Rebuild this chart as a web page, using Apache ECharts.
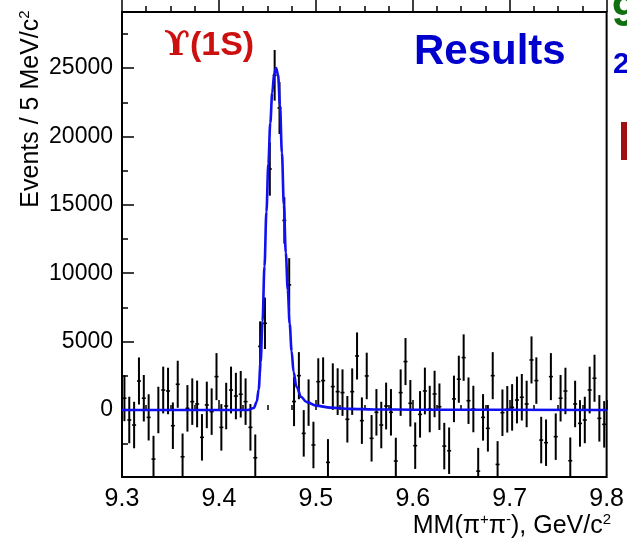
<!DOCTYPE html>
<html>
<head>
<meta charset="utf-8">
<script src="https://cdn.jsdelivr.net/npm/echarts@6/dist/echarts.min.js"></script>
<style>
  html, body { margin: 0; padding: 0; background: #fff; }
  #chart { width: 627px; height: 541px; }
</style>
</head>
<body>
<div id="chart"></div>
<script>
// Missing-mass spectrum, 5 MeV bins from 9.30 to 9.80 GeV/c^2
const binLow = 9.3;
const binWidth = 0.005;

// background-subtracted events per bin
const counts = [
  860, -730, -1100, 2120, 860, -540, -3590, 0, 1460, 1390,
  -1150, 1880, -3420, 120, 610, 440, -2000, 370, -120, 2440,
  -1270, 290, 1460, 1020, 1150, 610, -1270, -3490, 4650, 6340,
  17620, 24470, 22080, 13860, 9150, 620, 2510, -1710, 540, -2560,
  2070, 2150, -3830, 1710, 1340, 1270, -680, 1340, 3950, -780,
  2490, -2070, -170, -1100, 290, -170, -3730, 1270, 3540, 490,
  -2610, -320, 1390, 70, 1170, 240, -2640, -2980, 810, 2250,
  3830, 680, 70, -4470, -540, -1340, 2510, -3980, -200, 50,
  190, 730, 930, 440, 3660, 2150, -2200, -2390, 2440, -1950,
  860, 1390, -3710, 440, -980, -730, 1460, 2320, -610, -1050
];

// statistical uncertainty per bin
const errors = [
  1680, 1700, 1700, 1720, 1700, 1690, 1700, 1700, 1710, 1700,
  1700, 1720, 1700, 1700, 1700, 1710, 1700, 1700, 1700, 1720,
  1700, 1700, 1710, 1700, 1700, 1700, 1700, 1700, 1830, 1880,
  1950, 1850, 1900, 1700, 1950, 1800, 1720, 1700, 1700, 1700,
  1710, 1700, 1700, 1700, 1710, 1700, 1700, 1700, 1720, 1700,
  1700, 1700, 1700, 1700, 1710, 1700, 1700, 1700, 1720, 1700,
  1700, 1700, 1710, 1700, 1700, 1700, 1700, 1700, 1700, 1720,
  1700, 1700, 1700, 1700, 1700, 1700, 1720, 1700, 1700, 1700,
  1700, 1710, 1700, 1700, 1720, 1700, 1700, 1700, 1720, 1700,
  1700, 1700, 1700, 1700, 1700, 1700, 1710, 1720, 1700, 1700
];

// fitted signal + background curve
const fitX = [9.300, 9.430, 9.436, 9.439, 9.441, 9.443, 9.445, 9.447, 9.449, 9.451,
              9.453, 9.455, 9.457, 9.459, 9.461, 9.463, 9.465, 9.467, 9.469, 9.471,
              9.473, 9.475, 9.477, 9.480, 9.485, 9.490, 9.500, 9.515, 9.535, 9.560,
              9.600, 9.800];
const fitY = [0, 0, 150, 600, 1500, 3500, 6500, 10500, 14500, 18000,
              21000, 23200, 24600, 25000, 24500, 22300, 18800, 15000, 11500, 8800,
              6300, 4300, 2800, 1700, 950, 600, 320, 170, 80, 40,
              20, 0];

// axis ticks and labels
const xMajor = [9.3, 9.4, 9.5, 9.6, 9.7, 9.8];
const xMinor = [9.3, 9.325, 9.35, 9.375, 9.4, 9.425, 9.45, 9.475, 9.5, 9.525, 9.55,
                9.575, 9.6, 9.625, 9.65, 9.675, 9.7, 9.725, 9.75, 9.775, 9.8];
const yMajor = [0, 5000, 10000, 15000, 20000, 25000];
const yMinor = [-2500, 0, 2500, 5000, 7500, 10000, 12500, 15000, 17500, 20000, 22500, 25000, 27500];

const X_MIN = 9.3, X_MAX = 9.8, Y_MIN = -4900, Y_MAX = 29100;
const FONT = '"Liberation Sans", Arial, Helvetica, sans-serif';

const points = counts.map((c, i) => [binLow + binWidth * (i + 0.5), c, errors[i]]);
const fitData = fitX.map((x, i) => [x, fitY[i]]);

function tickAxis(values, len, pos, inside, showLabels) {
  return {
    type: 'value', min: X_MIN, max: X_MAX, position: pos,
    axisLine: { show: false },
    splitLine: { show: false },
    axisTick: { show: true, inside: inside, length: len, customValues: values,
                lineStyle: { color: '#000', width: 1.5 } },
    axisLabel: showLabels ? {
      show: true, customValues: values, margin: 10,
      formatter: v => v.toFixed(1),
      color: '#000', fontSize: 25, fontFamily: FONT
    } : { show: false }
  };
}

function yTickAxis(values, len, showLabels) {
  return {
    type: 'value', min: Y_MIN, max: Y_MAX, position: 'left',
    axisLine: { show: false },
    splitLine: { show: false },
    axisTick: { show: true, inside: true, length: len, customValues: values,
                lineStyle: { color: '#000', width: 1.5 } },
    axisLabel: showLabels ? {
      show: true, customValues: values, margin: 9,
      formatter: v => String(v),
      color: '#000', fontSize: 23, fontFamily: FONT
    } : { show: false }
  };
}

const supStyle = { fontSize: 15, fontFamily: FONT, fill: '#000', padding: [0, 0, 13, 0], verticalAlign: 'bottom' };

const chart = echarts.init(document.getElementById('chart'), null, { renderer: 'canvas' });

chart.setOption({
  animation: false,
  backgroundColor: '#fff',
  grid: {
    left: 122, right: 16, top: 12, bottom: 64,
    show: true, borderColor: '#000', borderWidth: 2, backgroundColor: 'transparent'
  },
  xAxis: [
    tickAxis(xMajor, 10, 'bottom', true, true),
    tickAxis(xMinor, 5, 'bottom', true, false),
    tickAxis(xMajor, 12, 'top', false, false),
    tickAxis(xMinor, 6, 'top', false, false)
  ],
  yAxis: [
    yTickAxis(yMajor, 12, true),
    yTickAxis(yMinor, 6, false)
  ],
  series: [
    {
      type: 'custom',
      name: 'data',
      clip: true,
      z: 2,
      data: points,
      renderItem: function (params, api) {
        const x = api.value(0), y = api.value(1), e = api.value(2);
        const top = api.coord([x, y + e]);
        const bot = api.coord([x, y - e]);
        const c = api.coord([x, y]);
        return {
          type: 'group',
          children: [
            { type: 'line', shape: { x1: top[0], y1: top[1], x2: bot[0], y2: bot[1] },
              style: { stroke: '#000', lineWidth: 2 } },
            { type: 'line', shape: { x1: c[0] - 2, y1: c[1], x2: c[0] + 2, y2: c[1] },
              style: { stroke: '#000', lineWidth: 1.6 } }
          ]
        };
      }
    },
    {
      type: 'line',
      name: 'fit',
      data: fitData,
      smooth: 0.35,
      smoothMonotone: 'x',
      showSymbol: false,
      clip: true,
      z: 3,
      lineStyle: { color: '#1010f0', width: 2.6 }
    }
  ],
  graphic: [
    {
      type: 'text', left: 164, top: 29, z: 10,
      style: {
        text: '{u|ϒ}(1S)', font: 'bold 34px ' + FONT, fill: '#cc1010',
        rich: { u: { fontFamily: '"DejaVu Serif", serif', fontWeight: 'bold', fontSize: 34, fill: '#cc1010' } }
      }
    },
    {
      type: 'text', left: 414, top: 31, z: 10,
      style: { text: 'Results', font: 'bold 42px ' + FONT, fill: '#0000cc' }
    },
    {
      type: 'text', x: 31, y: 109, rotation: Math.PI / 2, z: 10,
      style: {
        text: 'Events / 5 MeV/c{sup|2}',
        font: '25px ' + FONT, fill: '#000',
        align: 'center', verticalAlign: 'middle',
        rich: { sup: supStyle }
      }
    },
    {
      type: 'text', x: 611, y: 526, z: 10,
      style: {
        text: 'MM(π{sup|+}π{sup|-}), GeV/c{sup|2}',
        font: '25px ' + FONT, fill: '#000',
        align: 'right', verticalAlign: 'middle',
        rich: { sup: supStyle }
      }
    },
    {
      type: 'text', left: 612, top: -8, z: 10,
      style: { text: '9', font: 'bold 44px ' + FONT, fill: '#107010' }
    },
    {
      type: 'text', left: 613, top: 50, z: 10,
      style: { text: '2', font: 'bold 30px ' + FONT, fill: '#0000cc' }
    },
    {
      type: 'rect', shape: { x: 621, y: 122, width: 10, height: 38 }, z: 10,
      style: { fill: '#a01010' }
    }
  ]
});
</script>
</body>
</html>
